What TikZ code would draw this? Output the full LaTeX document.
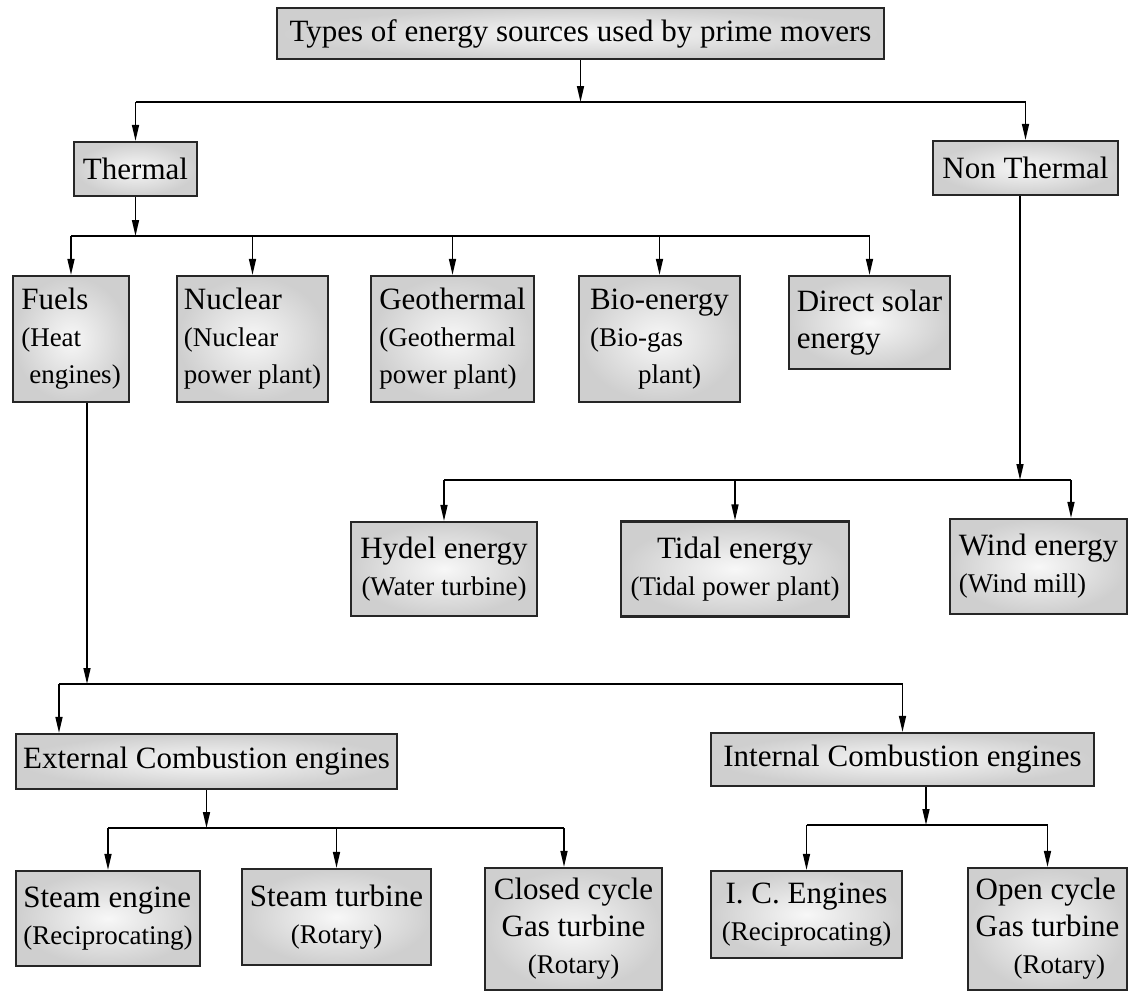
\documentclass[tikz,border=0pt]{standalone}
\usepackage{fontspec}
\setmainfont{Liberation Serif}
\usetikzlibrary{arrows.meta}
\newcommand{\pn}{\fontsize{27}{37}\selectfont}
\begin{document}
\begin{tikzpicture}[x=1pt,y=-1pt,
  box/.style={draw=black!85, line width=2.2pt, shade, shading=radial, inner color=gray!6, outer color=gray!38, inner sep=0pt, font=\fontsize{31}{37}\selectfont},
  conn/.style={line width=1.5pt, -{Triangle[length=16pt,width=7pt]}},
  bar/.style={line width=2.6pt}]
\useasboundingbox (0,0) rectangle (1136,994);
% boxes
\node[box,minimum width=607pt,minimum height=51pt] (top) at (580.5,33.5) {Types of energy sources used by prime movers};
\node[box,minimum width=123pt,minimum height=54pt] (thermal) at (135.5,169) {Thermal};
\node[box,minimum width=185pt,minimum height=54pt] (nonthermal) at (1025.5,168) {Non Thermal};
\node[box,align=left,minimum width=116pt,minimum height=126pt] (fuels) at (71,339) {Fuels\\{\pn(Heat}\\{\pn\hspace{8pt}engines)}};
\node[box,align=left,minimum width=151pt,minimum height=126pt] (nuclear) at (252.5,339) {Nuclear\\{\pn(Nuclear}\\{\pn power plant)}};
\node[box,align=left,minimum width=163pt,minimum height=126pt] (geo) at (452.5,339) {Geothermal\\{\pn(Geothermal}\\{\pn power plant)}};
\node[box,align=left,minimum width=161pt,minimum height=126pt] (bio) at (659.5,339) {Bio-energy\\{\pn(Bio-gas}\\{\pn\hspace{48pt}plant)}};
\node[box,align=left,minimum width=161pt,minimum height=93pt] (solar) at (869.5,322.5) {Direct solar\\energy};
\node[box,align=center,minimum width=186pt,minimum height=94pt] (hydel) at (444,569) {Hydel energy\\{\pn(Water turbine)}};
\node[box,align=center,minimum width=228pt,minimum height=95pt] (tidal) at (735,569) {Tidal energy\\{\pn(Tidal power plant)}};
\node[box,align=left,minimum width=177pt,minimum height=95pt] (wind) at (1038.5,566.5) {Wind energy\\{\pn(Wind mill)}};
\node[box,minimum width=381pt,minimum height=55pt] (external) at (206.5,761.5) {External Combustion engines};
\node[box,minimum width=383pt,minimum height=53pt] (internal) at (902.5,759.5) {Internal Combustion engines};
\node[box,align=left,minimum width=184pt,minimum height=95pt] (se) at (108,918.5) {Steam engine\\{\pn(Reciprocating)}};
\node[box,align=center,minimum width=189pt,minimum height=96pt] (st) at (336.5,917) {Steam turbine\\{\pn(Rotary)}};
\node[box,align=center,minimum width=177pt,minimum height=122pt] (closed) at (573.5,929) {Closed cycle\\Gas turbine\\{\pn(Rotary)}};
\node[box,align=center,minimum width=191pt,minimum height=87pt] (ic) at (806.5,914.5) {I. C. Engines\\{\pn(Reciprocating)}};
\node[box,align=left,minimum width=159pt,minimum height=122pt] (open) at (1047.5,929) {Open cycle\\Gas turbine\\{\pn\hspace{38pt}(Rotary)}};
% level 1
\coordinate (b1l) at (135.5,102); \coordinate (b1r) at (1025.5,102);
\draw[conn] (top.south) -- (top.south |- b1l);
\draw[bar] (b1l) -- (b1r);
\draw[conn] (b1l) -- (thermal.north);
\draw[conn] (b1r) -- (nonthermal.north);
% thermal
\coordinate (b2l) at (71,236); \coordinate (b2r) at (869.5,236);
\draw[conn] (thermal.south) -- (thermal.south |- b2l);
\draw[bar] (b2l) -- (b2r);
\draw[conn] (b2l) -- (fuels.north);
\draw[conn] (nuclear.north |- b2l) -- (nuclear.north);
\draw[conn] (geo.north |- b2l) -- (geo.north);
\draw[conn] (bio.north |- b2l) -- (bio.north);
\draw[conn] (b2r) -- (solar.north);
% non thermal
\coordinate (b3l) at (444,480); \coordinate (b3r) at (1071,480); \coordinate (nt) at (1020,480);
\draw[conn] (nonthermal.south -| nt) -- (nt);
\draw[bar] (b3l) -- (b3r);
\draw[conn] (b3l) -- (hydel.north);
\draw[conn] (tidal.north |- b3l) -- (tidal.north);
\draw[conn] (b3r) -- (b3r |- wind.north);
% fuels
\coordinate (b4l) at (59,684); \coordinate (b4r) at (902.5,684); \coordinate (fl) at (87,684);
\draw[conn] (fuels.south -| fl) -- (fl);
\draw[bar] (b4l) -- (b4r);
\draw[conn] (b4l) -- (b4l |- external.north);
\draw[conn] (b4r) -- (internal.north);
% external
\coordinate (b5l) at (108,828); \coordinate (b5r) at (564,828);
\draw[conn] (external.south) -- (external.south |- b5l);
\draw[bar] (b5l) -- (b5r);
\draw[conn] (b5l) -- (se.north);
\draw[conn] (st.north |- b5l) -- (st.north);
\draw[conn] (b5r) -- (b5r |- closed.north);
% internal
\coordinate (b6l) at (806.5,825); \coordinate (b6r) at (1047.5,825); \coordinate (il) at (926,825);
\draw[conn] (internal.south -| il) -- (il);
\draw[bar] (b6l) -- (b6r);
\draw[conn] (b6l) -- (ic.north);
\draw[conn] (b6r) -- (open.north);
\end{tikzpicture}
\end{document}
